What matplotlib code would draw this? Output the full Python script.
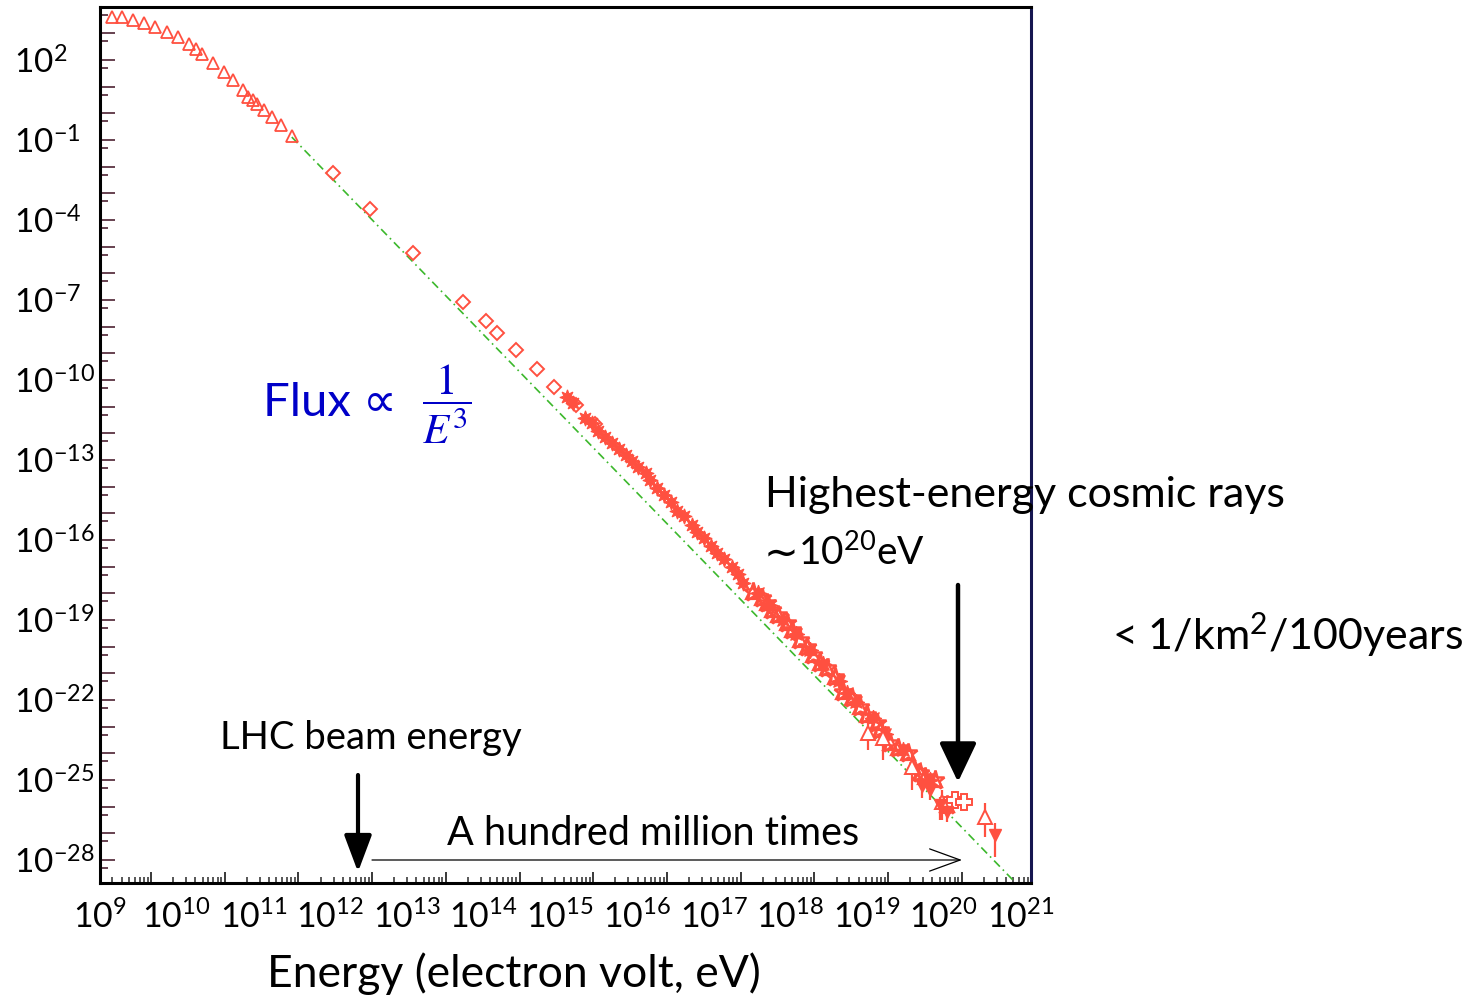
import numpy as np
import matplotlib
matplotlib.use("Agg")
import matplotlib.pyplot as plt
from matplotlib.ticker import FixedLocator, FuncFormatter, NullLocator, NullFormatter

plt.rcParams['font.family'] = ['Lato', 'DejaVu Sans']
plt.rcParams['mathtext.fontset'] = 'custom'
plt.rcParams['mathtext.rm'] = 'Lato'
plt.rcParams['mathtext.it'] = 'Lato:italic'
plt.rcParams['mathtext.bf'] = 'Lato:bold'

# ---------------- data (log10 of energy [eV] and flux) ----------------
lowE_logE = [8.467, 8.611, 8.760, 8.909, 9.054, 9.213, 9.362, 9.516, 9.611, 9.696,
             9.845, 9.990, 10.117, 10.252, 10.320, 10.388, 10.442, 10.537, 10.638,
             10.764, 10.909]
lowE_logF = [3.624, 3.601, 3.50, 3.376, 3.249, 3.061, 2.851, 2.589, 2.412, 2.214,
             1.876, 1.561, 1.25, 0.875, 0.624, 0.50, 0.350, 0.125, -0.149,
             -0.437, -0.850]

diam_logE = [11.474, 11.971, 12.559, 13.229, 13.545, 13.691, 13.953, 14.241, 14.472,
             14.767, 15.024]
diam_logF = [-2.248, -3.598, -5.248, -7.063, -7.775, -8.225, -8.874, -9.597, -10.272,
             -10.936, -11.660]

star_logE = [14.641, 14.722, 14.889, 14.980, 15.069, 15.160, 15.259, 15.350, 15.445,
             15.522, 15.612, 15.712, 15.771, 15.862, 15.965, 16.052, 16.133, 16.232,
             16.336, 16.404, 16.503, 16.598, 16.676, 16.775, 16.879, 16.969, 17.037]
star_logF = [-10.647, -10.850, -11.435, -11.600, -11.900, -12.147, -12.372, -12.597,
             -12.811, -13.036, -13.249, -13.474, -13.748, -14.059, -14.310, -14.562,
             -14.910, -15.098, -15.435, -15.686, -15.934, -16.211, -16.474, -16.721,
             -16.999, -17.273, -17.599]

band_logE = [17.172, 17.286, 17.354, 17.422, 17.512, 17.626, 17.693, 17.806, 17.897,
             17.987, 18.077, 18.168, 18.281, 18.393, 18.507, 18.620, 18.711, 18.847,
             18.891, 19.027, 19.140, 19.275, 19.434, 19.502, 19.638, 19.797]
band_logF = [-17.936, -18.184, -18.371, -18.622, -18.810, -19.121, -19.372, -19.747,
             -20.021, -20.310, -20.621, -20.809, -21.124, -21.686, -21.933, -22.248,
             -22.559, -22.871, -23.122, -23.621, -23.808, -23.996, -24.746, -24.873,
             -24.997, -25.934]

band2_logE = [17.23, 17.39, 17.57, 17.75, 17.94, 18.12, 18.33, 18.45, 18.57, 18.79,
              18.96, 19.20, 19.36, 19.57]
band2_logF = [-18.00, -18.45, -18.98, -19.52, -20.12, -20.66, -21.30, -21.72, -22.06,
              -22.68, -23.28, -23.88, -24.55, -24.98]

err_logE = [18.735, 18.936, 19.321, 19.728, 20.316]
err_logF = [-23.246, -23.433, -24.497, -25.810, -26.373]
err_hi = [-22.485, -22.747, -23.872, -25.372, -25.859]
err_lo = [-23.872, -24.247, -25.372, -26.497, -27.134]

bar_logE = [19.457, 19.570, 19.706, 19.797]
bar_logF = [-25.22, -25.372, -25.934, -26.197]
bar_hi = [-24.997, -25.109, -25.634, -26.009]
bar_lo = [-25.672, -25.747, -26.497, -26.572]

cross_logE = [19.797, 19.909, 20.031]
cross_logF = [-25.934, -25.747, -25.810]

down_logE = [20.452]
down_logF = [-27.059]
down_hi = [-26.609]
down_lo = [-27.884]

line_logE = [10.91, 20.72]
line_logF = [-0.89, -28.82]

x_label_exps = list(range(9, 22))
y_label_exps = list(range(2, -29, -3))

RED = '#ff5040'
W, H = 1466, 997


def p10(a):
    return 10.0 ** np.asarray(a, dtype=float)


fig = plt.figure(figsize=(W / 100, H / 100), dpi=100)
ax = fig.add_axes([100 / W, (H - 883) / H, 931 / W, 876 / H])
ax.set_xscale('log')
ax.set_yscale('log')
ax.set_xlim(10 ** 8.308, 10 ** 20.94)
ax.set_ylim(10 ** -28.859, 10 ** 3.987)

# power-law guide line
ax.plot(p10(line_logE), p10(line_logF), color='#3cb82c', lw=1.2,
        ls=(0, (5, 2.5, 1, 2.5)), zorder=2)

# data
ax.plot(p10(lowE_logE), p10(lowE_logF), ls='none', marker='^', ms=8.5,
        mfc='none', mec=RED, mew=1.3, zorder=3)
ax.plot(p10(diam_logE), p10(diam_logF), ls='none', marker='D', ms=7,
        mfc='none', mec=RED, mew=1.4, zorder=3)
ax.plot(p10(star_logE), p10(star_logF), ls='none', marker=(8, 1, 0), ms=11,
        mfc=RED, mec=RED, mew=0.8, zorder=3)
ax.plot(p10(band_logE), p10(band_logF), ls='none', marker='*', ms=14,
        mfc='none', mec=RED, mew=1.8, zorder=3)
ax.plot(p10(band_logE), p10(band_logF), ls='none', marker='^', ms=10,
        mfc='none', mec=RED, mew=1.6, zorder=3)
ax.plot(p10(band2_logE), p10(band2_logF), ls='none', marker=(8, 1, 0), ms=12,
        mfc=RED, mec=RED, mew=0.8, zorder=3)

eF = p10(err_logF)
ax.errorbar(p10(err_logE), eF, yerr=[eF - p10(err_lo), p10(err_hi) - eF],
            ls='none', marker='^', ms=10, mfc='white', mec=RED, mew=1.4,
            ecolor=RED, elinewidth=1.6, capsize=0, zorder=4)
bF = p10(bar_logF)
ax.errorbar(p10(bar_logE), bF, yerr=[bF - p10(bar_lo), p10(bar_hi) - bF],
            ls='none', marker='v', ms=8, mfc=RED, mec=RED,
            ecolor=RED, elinewidth=1.6, capsize=0, zorder=4)
ax.plot(p10(cross_logE), p10(cross_logF), ls='none', marker='P', ms=11,
        mfc='white', mec=RED, mew=1.4, zorder=4)
dF = p10(down_logF)
ax.errorbar(p10(down_logE), dF, yerr=[dF - p10(down_lo), p10(down_hi) - dF],
            ls='none', marker='v', ms=9, mfc=RED, mec=RED,
            ecolor=RED, elinewidth=1.6, capsize=0, zorder=4)

# spines
for s in ax.spines.values():
    s.set_linewidth(2.2)
    s.set_color('black')
ax.spines['right'].set_color('#161650')

# x ticks (marks only)
ax.xaxis.set_major_locator(FixedLocator([10.0 ** k for k in range(8, 22)]))
ax.xaxis.set_minor_locator(FixedLocator([m * 10.0 ** k for k in range(8, 21)
                                         for m in range(2, 10)]))
ax.xaxis.set_major_formatter(NullFormatter())
ax.xaxis.set_minor_formatter(NullFormatter())
ax.tick_params(axis='x', which='major', direction='in', length=8, width=1.3,
               color='#2a2a2a', top=False)
ax.tick_params(axis='x', which='minor', direction='in', length=4, width=1.1,
               color='#2a2a2a', top=False)

# y ticks
ax.yaxis.set_major_locator(FixedLocator([10.0 ** k for k in range(-29, 5)]))
ax.yaxis.set_minor_locator(FixedLocator([5 * 10.0 ** k for k in range(-30, 4)]))


def yfmt(v, pos):
    e = int(round(np.log10(v)))
    return r'$10^{%d}$' % e if e in y_label_exps else ''


ax.yaxis.set_major_formatter(FuncFormatter(yfmt))
ax.yaxis.set_minor_formatter(NullFormatter())
ax.tick_params(axis='y', which='major', direction='in', length=11, width=1.3,
               color='#5a3342', labelsize=24, pad=62, right=False)
ax.tick_params(axis='y', which='minor', direction='in', length=5.5, width=1.3,
               color='#5a3342', right=False)
for lab in ax.get_yticklabels():
    lab.set_horizontalalignment('left')

# x tick labels (slide overlay scale)
ax2 = ax.twiny()
ax2.set_xscale('log')
ax2.set_xlim(10 ** 9.108, 10 ** 21.137)
ax2.xaxis.set_ticks_position('bottom')
ax2.xaxis.set_label_position('bottom')
ax2.set_xticks([10.0 ** k for k in x_label_exps])
ax2.xaxis.set_minor_locator(NullLocator())
ax2.xaxis.set_major_formatter(FuncFormatter(
    lambda v, p: r'$10^{%d}$' % int(round(np.log10(v)))))
ax2.tick_params(axis='x', length=0, labelsize=24.5, pad=12)
for s in ax2.spines.values():
    s.set_visible(False)
ax2.set_xlabel('Energy (electron volt, eV)', fontsize=32)
ax2.xaxis.set_label_coords((514 - 100) / 931, -(974 - 883) / 876)
ax2.xaxis.label.set_verticalalignment('center')


def fx(px):
    return px / W


def fy(py):
    return 1 - py / H


# annotations
BLUE = '#0000c8'
fig.text(fx(263), fy(403), 'Flux \u221d', color=BLUE, fontsize=34,
         ha='left', va='center', family=['Lato', 'DejaVu Sans'])
fig.text(fx(447), fy(404), r'$\dfrac{1}{E^{3}}$', color=BLUE, fontsize=31,
         ha='center', va='center', math_fontfamily='stix')

fig.text(fx(765), fy(495), 'Highest-energy cosmic rays', fontsize=31,
         ha='left', va='center')
fig.text(fx(764), fy(554), '\u223c', fontsize=30, ha='left', va='center',
         family='DejaVu Sans')
fig.text(fx(798), fy(552), '10$^{20}$eV', fontsize=28,
         ha='left', va='center')
fig.text(fx(1112), fy(635), r'< 1/km$^{2}$/100years', fontsize=31,
         ha='left', va='center')
fig.text(fx(220), fy(738), 'LHC beam energy', fontsize=27.5,
         ha='left', va='center')
fig.text(fx(447), fy(833), 'A hundred million times', fontsize=28.5,
         ha='left', va='center')

# arrows
ax.annotate('', xy=(958, H - 782), xytext=(958, H - 585), xycoords='figure pixels',
            textcoords='figure pixels',
            arrowprops=dict(arrowstyle='-|>,head_length=0.8,head_width=0.38',
                            lw=3.2, color='black', mutation_scale=30,
                            shrinkA=0, shrinkB=0))
ax.annotate('', xy=(358, H - 872), xytext=(358, H - 775), xycoords='figure pixels',
            textcoords='figure pixels',
            arrowprops=dict(arrowstyle='-|>,head_length=0.8,head_width=0.3',
                            lw=3.0, color='black', mutation_scale=28,
                            shrinkA=0, shrinkB=0))
ax.annotate('', xy=(962, H - 860), xytext=(372, H - 860), xycoords='figure pixels',
            textcoords='figure pixels',
            arrowprops=dict(arrowstyle='->,head_length=1.1,head_width=0.4',
                            lw=0.9, color='black', mutation_scale=20,
                            shrinkA=0, shrinkB=0))

fig.savefig('out.png', dpi=100)
